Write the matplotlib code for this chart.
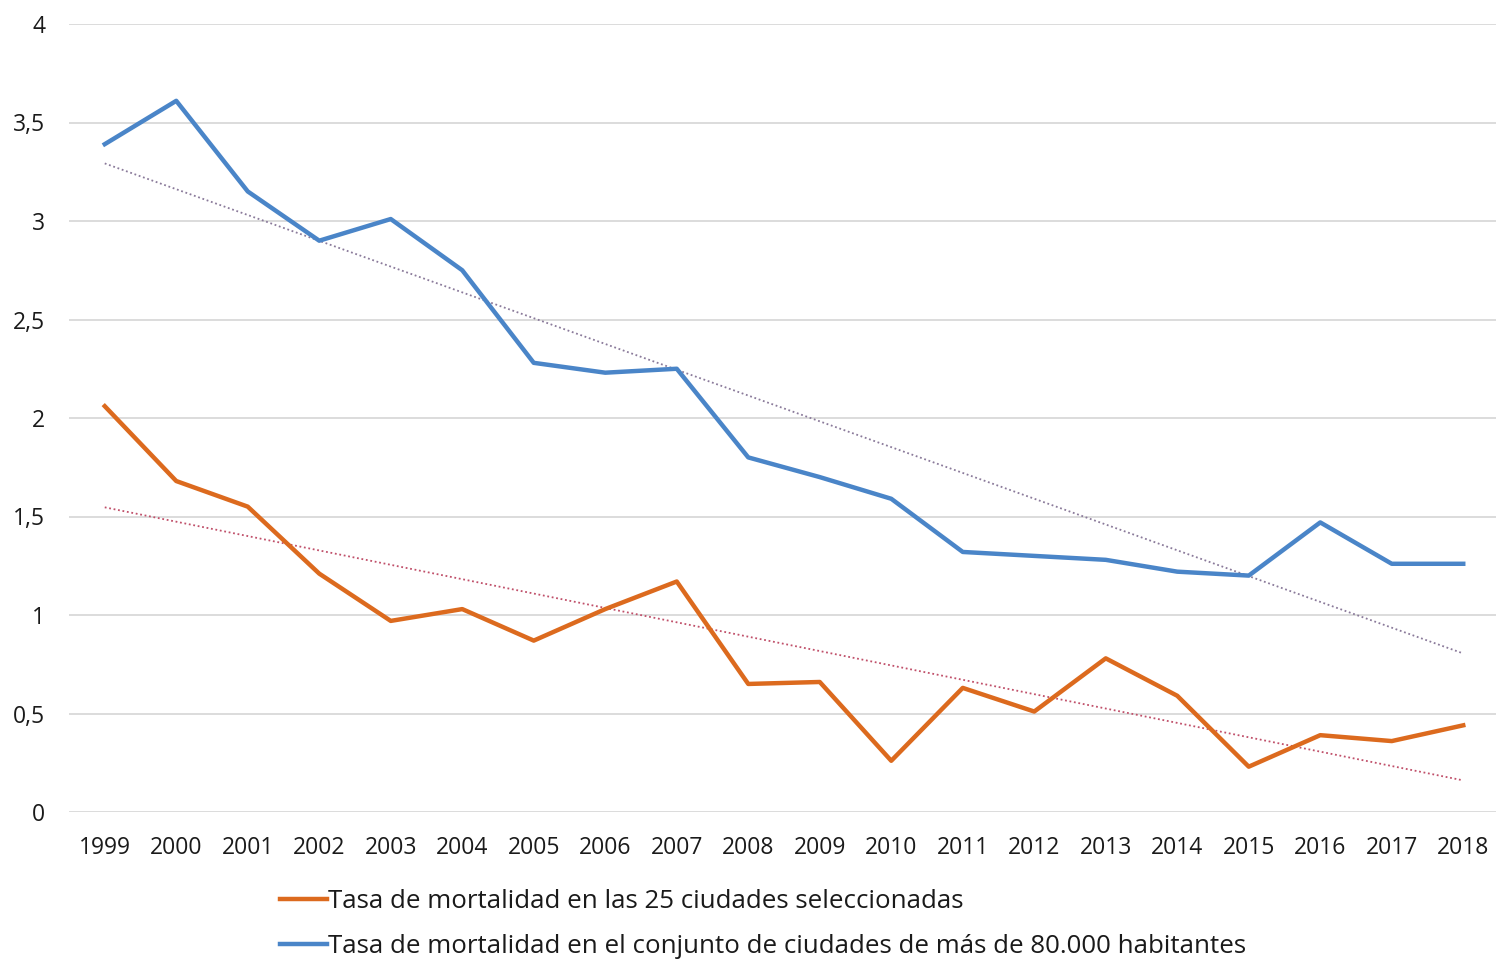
import numpy as np
import matplotlib.pyplot as plt
from matplotlib.ticker import FuncFormatter

years = list(range(1999, 2019))
tasa_80000 = [3.39, 3.61, 3.15, 2.90, 3.01, 2.75, 2.28, 2.23, 2.25, 1.80,
              1.70, 1.59, 1.32, 1.30, 1.28, 1.22, 1.20, 1.47, 1.26, 1.26]
tasa_25 = [2.06, 1.68, 1.55, 1.21, 0.97, 1.03, 0.87, 1.03, 1.17, 0.65,
           0.66, 0.26, 0.63, 0.51, 0.78, 0.59, 0.23, 0.39, 0.36, 0.44]
label_25 = "Tasa de mortalidad en las 25 ciudades seleccionadas"
label_80000 = "Tasa de mortalidad en el conjunto de ciudades de más de 80.000 habitantes"

orange = "#dc6a1e"
blue = "#4a85c8"

plt.rcParams["font.family"] = ["Open Sans", "DejaVu Sans"]

fig = plt.figure(figsize=(14.96, 9.6), dpi=100)
ax = fig.add_axes([69 / 1496, 1 - 812 / 960, (1499 - 69) / 1496, (812 - 24) / 960])

x = np.array(years)

# linear trend lines, like the spreadsheet ones
for vals, col in [(tasa_80000, "#8a7a9a"), (tasa_25, "#c0506a")]:
    k, b = np.polyfit(x, vals, 1)
    ax.plot(x, k * x + b, color=col, lw=1.3, ls=(0, (1, 1.5)), zorder=2)

ax.plot(x, tasa_80000, color=blue, lw=3.2, label=label_80000, zorder=3,
        solid_joinstyle="round")
ax.plot(x, tasa_25, color=orange, lw=3.2, label=label_25, zorder=3,
        solid_joinstyle="round")

ax.set_xlim(1998.5, 2018.5)
ax.set_ylim(0, 4)
ax.set_yticks(np.arange(0, 4.01, 0.5))
ax.set_xticks(x)
ax.yaxis.set_major_formatter(FuncFormatter(lambda v, p: f"{v:g}".replace(".", ",")))
ax.grid(axis="y", color="#d9d9d9", lw=1.3)
ax.set_axisbelow(True)
for s in ax.spines.values():
    s.set_visible(False)
ax.tick_params(length=0, labelsize=16.5, colors="#1a1a1a")
ax.tick_params(axis="y", pad=17)
ax.tick_params(axis="x", pad=17)

h, l = ax.get_legend_handles_labels()
fig.legend(h[::-1], l[::-1], loc="upper left", bbox_to_anchor=(270 / 1496, 1 - 879 / 960),
           frameon=False, fontsize=18.6, handlelength=1.8, handletextpad=0.05,
           labelspacing=0.78, borderaxespad=0, labelcolor="#1a1a1a")

fig.savefig("out.png", dpi=100)
